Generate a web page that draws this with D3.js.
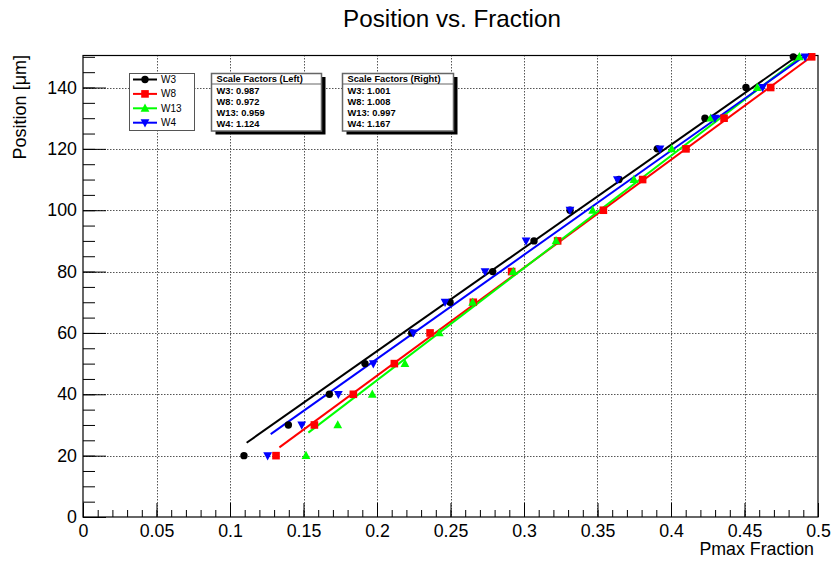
<!DOCTYPE html>
<html>
<head>
<meta charset="utf-8">
<script src="https://cdn.jsdelivr.net/npm/d3@7"></script>
<style>
  body { margin: 0; background: #fff; }
  svg { display: block; font-family: "Liberation Sans", Arial, sans-serif; }
</style>
</head>
<body>
<div id="chart"></div>
<script>
// positions (y) shared by all series
const positions = [20, 30, 40, 50, 60, 70, 80, 90, 100, 110, 120, 130, 140, 150]

// Pmax fraction, one array per sensor
const w3_frac = [0.1095, 0.1397, 0.1676, 0.1918, 0.2236, 0.2497, 0.2787, 0.3068, 0.3313, 0.3646, 0.3907, 0.4231, 0.4510, 0.4832]
const w8_frac = [0.1313, 0.1574, 0.1839, 0.2118, 0.2361, 0.2655, 0.2916, 0.3229, 0.3540, 0.3807, 0.4102, 0.4361, 0.4678, 0.4957]
const w13_frac = [0.1517, 0.1733, 0.1968, 0.2190, 0.2424, 0.2651, 0.2927, 0.3218, 0.3467, 0.3748, 0.4005, 0.4270, 0.4587, 0.4873]
const w4_frac = [0.1256, 0.1488, 0.1737, 0.1975, 0.2247, 0.2463, 0.2735, 0.3014, 0.3313, 0.3635, 0.3925, 0.4299, 0.4623, 0.4912]

// fit lines, endpoints [fraction, position]
const w3_fit = [[0.1113, 24.2], [0.4855, 150.1]]
const w8_fit = [[0.1336, 22.7], [0.4957, 150.1]]
const w13_fit = [[0.1533, 27.5], [0.4885, 150.1]]
const w4_fit = [[0.1277, 27.0], [0.4905, 150.1]]

const scale_left = ["W3: 0.987", "W8: 0.972", "W13: 0.959", "W4: 1.124"]
const scale_right = ["W3: 1.001", "W8: 1.008", "W13: 0.997", "W4: 1.167"]

const x_ticks = [0, 0.05, 0.1, 0.15, 0.2, 0.25, 0.3, 0.35, 0.4, 0.45, 0.5]
const x_labels = ["0", "0.05", "0.1", "0.15", "0.2", "0.25", "0.3", "0.35", "0.4", "0.45", "0.5"]
const y_ticks = [0, 20, 40, 60, 80, 100, 120, 140]

const series = [
  {name: "W3", frac: w3_frac, fit: w3_fit, color: "#000000", marker: "circle"},
  {name: "W8", frac: w8_frac, fit: w8_fit, color: "#ff0000", marker: "square"},
  {name: "W13", frac: w13_frac, fit: w13_fit, color: "#00ff00", marker: "tri-up"},
  {name: "W4", frac: w4_frac, fit: w4_fit, color: "#0000ff", marker: "tri-down"}
]

const width = 831
const height = 562
const frame = {left: 83, right: 818, top: 55, bottom: 517}

const svg = d3.select("#chart").append("svg").attr("width", width).attr("height", height)

const x = d3.scaleLinear().domain([0, 0.5]).range([frame.left, frame.right])
const y = d3.scaleLinear().domain([0, 150.6]).range([frame.bottom, frame.top])

// grid
const grid = svg.append("g").attr("stroke", "#555").attr("stroke-width", 1).attr("stroke-dasharray", "1.5,1.5")
grid.selectAll(".gx").data(x_ticks.slice(1, -1)).join("line")
  .attr("x1", d => Math.round(x(d)) + 0.5).attr("x2", d => Math.round(x(d)) + 0.5)
  .attr("y1", frame.top).attr("y2", frame.bottom)
grid.selectAll(".gy").data(y_ticks.slice(1)).join("line")
  .attr("x1", frame.left).attr("x2", frame.right)
  .attr("y1", d => Math.round(y(d)) + 0.5).attr("y2", d => Math.round(y(d)) + 0.5)

// axes
const x_minor = d3.range(0, 51).map(i => i / 100)
const y_minor = d3.range(0, 31).map(i => i * 5)
const font = "Liberation Sans, Arial, sans-serif"

svg.append("g").attr("transform", `translate(0,${frame.bottom})`)
  .call(d3.axisBottom(x).tickValues(x_minor).tickSize(-7).tickFormat(""))
  .call(g => g.select(".domain").remove())
svg.append("g").attr("transform", `translate(0,${frame.bottom})`)
  .call(d3.axisBottom(x).tickValues(x_ticks).tickSize(-14).tickPadding(7).tickFormat((d, i) => x_labels[i]))
  .call(g => g.select(".domain").remove())
  .call(g => g.selectAll("text").attr("font-size", 17.8).attr("fill", "#000").attr("font-family", font))

svg.append("g").attr("transform", `translate(${frame.left},0)`)
  .call(d3.axisLeft(y).tickValues(y_minor).tickSize(-12).tickFormat(""))
  .call(g => g.select(".domain").remove())
svg.append("g").attr("transform", `translate(${frame.left},0)`)
  .call(d3.axisLeft(y).tickValues(y_ticks).tickSize(-23).tickPadding(6))
  .call(g => g.select(".domain").remove())
  .call(g => g.selectAll("text").attr("font-size", 17.8).attr("fill", "#000").attr("font-family", font))

// frame
svg.append("rect").attr("x", frame.left).attr("y", frame.top + 0.5)
  .attr("width", frame.right - frame.left).attr("height", frame.bottom - frame.top - 0.5)
  .attr("fill", "none").attr("stroke", "#000").attr("stroke-width", 1.2)

// fit lines
const line = d3.line().x(d => x(d[0])).y(d => y(d[1]))
svg.append("g").selectAll("path").data(series).join("path")
  .attr("d", d => line(d.fit))
  .attr("fill", "none").attr("stroke", d => d.color).attr("stroke-width", 2)

// markers
function drawMarker(g, type, color) {
  if (type === "circle") g.append("circle").attr("r", 3.7).attr("fill", color)
  if (type === "square") g.append("rect").attr("x", -3.8).attr("y", -3.8).attr("width", 7.6).attr("height", 7.6).attr("fill", color)
  if (type === "tri-up") g.append("path").attr("d", "M0,-4.8L4.4,3.4L-4.4,3.4Z").attr("fill", color)
  if (type === "tri-down") g.append("path").attr("d", "M0,4.8L4.4,-3.4L-4.4,-3.4Z").attr("fill", color)
}

series.forEach(s => {
  const g = svg.append("g")
  s.frac.forEach((f, i) => {
    const m = g.append("g").attr("transform", `translate(${x(f)},${y(positions[i])})`)
    drawMarker(m, s.marker, s.color)
  })
})

// title and axis titles
svg.append("text").attr("x", 452).attr("y", 27).attr("text-anchor", "middle")
  .attr("font-size", 24.2).text("Position vs. Fraction")
svg.append("text").attr("x", 814).attr("y", 555).attr("text-anchor", "end")
  .attr("font-size", 17.8).text("Pmax Fraction")
svg.append("text").attr("transform", "translate(26,55) rotate(-90)").attr("text-anchor", "end")
  .attr("font-size", 18).text("Position [μm]")

// legend
const legend = svg.append("g")
legend.append("rect").attr("x", 129.5).attr("y", 73.5).attr("width", 65).attr("height", 57)
  .attr("fill", "#fff").attr("stroke", "#555").attr("stroke-width", 1)
series.forEach((s, i) => {
  const ly = 79.5 + i * 14.4
  legend.append("line").attr("x1", 133).attr("x2", 157).attr("y1", ly).attr("y2", ly)
    .attr("stroke", s.color).attr("stroke-width", 2)
  drawMarker(legend.append("g").attr("transform", `translate(145,${ly})`), s.marker, s.color)
  legend.append("text").attr("x", 161).attr("y", ly + 3.5).attr("font-size", 10).text(s.name)
})

// scale factor boxes
function scaleBox(x0, w, header, rows) {
  const g = svg.append("g")
  g.append("rect").attr("x", x0 + 4).attr("y", 77).attr("width", w).attr("height", 57.5).attr("fill", "#000")
  g.append("rect").attr("x", x0).attr("y", 73.5).attr("width", w).attr("height", 57.5)
    .attr("fill", "#fff").attr("stroke", "#666").attr("stroke-width", 1.5)
  g.append("line").attr("x1", x0).attr("x2", x0 + w).attr("y1", 84).attr("y2", 84)
    .attr("stroke", "#666").attr("stroke-width", 1.2)
  g.append("text").attr("x", x0 + 5).attr("y", 82).attr("font-size", 9.3).attr("font-weight", "bold").text(header)
  rows.forEach((r, i) => {
    g.append("text").attr("x", x0 + 5).attr("y", 94 + i * 11.1).attr("font-size", 9.3).attr("font-weight", "bold").text(r)
  })
}
scaleBox(211.5, 110, "Scale Factors (Left)", scale_left)
scaleBox(342.5, 111, "Scale Factors (Right)", scale_right)
</script>
</body>
</html>
